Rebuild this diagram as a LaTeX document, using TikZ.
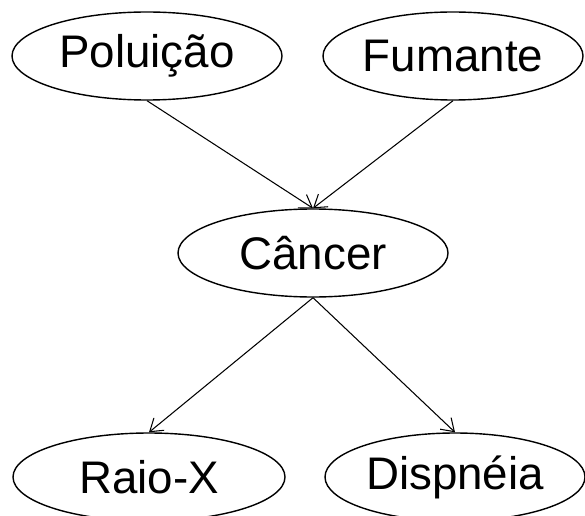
\documentclass[tikz,border=0pt]{standalone}
\usepackage{fontspec}
\setmainfont{Liberation Sans}
\usetikzlibrary{arrows.meta,shapes.geometric}

\begin{document}
\begin{tikzpicture}[font=\fontsize{26}{31}\selectfont,
  >={Straight Barb[length=2.4mm, width=3.2mm]},
  var/.style={draw, ellipse, minimum width=5.4cm, minimum height=1.76cm, inner sep=0pt, line width=0.8pt},
  arr/.style={->, line width=0.6pt}]
  \useasboundingbox (0,0) rectangle (11.7,10.3);
  \node[var] (P) at (2.94,9.18) {Poluição};
  \node[var, minimum width=5.2cm] (F) at (9.06,9.18) {Fumante};
  \node[var] (C) at (6.26,5.24) {Câncer};
  \node[var, minimum width=5.44cm] (R) at (2.98,0.76) {Raio-X};
  \node[var, minimum width=5.2cm] (D) at (9.10,0.76) {Dispnéia};

  \draw[arr] (P.south) -- (C.north);
  \draw[arr] (F.south) -- (C.north);
  \draw[arr] (C.south) -- (R.north);
  \draw[arr] (C.south) -- (D.north);
\end{tikzpicture}
\end{document}
